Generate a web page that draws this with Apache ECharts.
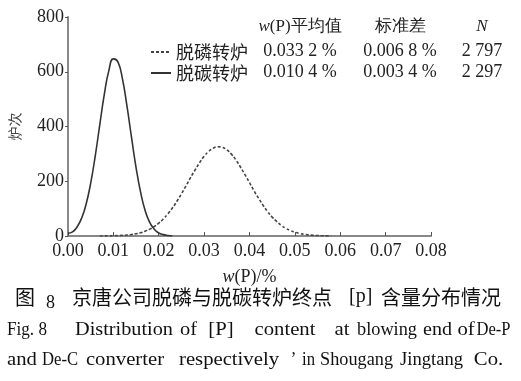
<!DOCTYPE html>
<html>
<head>
<meta charset="utf-8">
<script src="https://cdn.jsdelivr.net/npm/echarts@6/dist/echarts.min.js"></script>
<style>html,body{margin:0;padding:0;background:#fff}#c{width:521px;height:381px}</style>
</head>
<body>
<div id="c"></div>
<script>
// De-C converter (solid)
const xDeC = [0.000,0.001,0.002,0.003,0.004,0.005,0.006,0.007,0.008,0.009,0.010,0.011,0.012,0.013,0.014,0.015,0.016,0.017,0.018,0.019,0.020,0.021,0.022,0.023];
const yDeC = [10,15,33,65,117,193,292,406,517,604,647,636,574,474,360,250,160,93,50,25,11,5,2,0];
// De-P converter (dashed)
const xDeP = [0.007,0.008,0.009,0.010,0.011,0.012,0.013,0.014,0.015,0.016,0.017,0.018,0.019,0.020,0.021,0.022,0.023,0.024,0.025,0.026,0.027,0.028,0.029,0.030,0.031,0.032,0.033,0.034,0.035,0.036,0.037,0.038,0.039,0.040,0.041,0.042,0.043,0.044,0.045,0.046,0.047,0.048,0.049,0.050,0.051,0.052,0.053,0.054,0.055,0.056,0.057,0.058];
const yDeP = [0,0.3,0.5,0.8,1.3,2.2,3.5,5.4,8.2,12,17.5,25,34,47,62,81,102,127,154,183,213,241,268,291,309,321,326,324,315,299,278,252,224,195,165,138,112,89,69,53,39,28,20,14,9.6,6.4,4.1,2.6,1.6,1.0,0.6,0.3];
const seriesNames = ['脱磷转炉','脱碳转炉'];
const xTicks = ['0.00','0.01','0.02','0.03','0.04','0.05','0.06','0.07','0.08'];
const yTicks = [0,200,400,600,800];
const statHeader = ['{i|w}(P)平均值','标准差','{i|N}'];
const statDeP = ['0.033 2 %','0.006 8 %','2 797'];
const statDeC = ['0.010 4 %','0.003 4 %','2 297'];
const captionEn1 = ['Fig. 8','Distribution','of','[P]','content','at','blowing','end','of','De-P'];
const captionEn2 = ['and','De-C','converter','respectively','\u2019','in','Shougang','Jingtang','Co.'];

const serif = '"Liberation Serif","Times New Roman",serif';
const cjk = '"Noto Sans CJK SC",sans-serif';
const dark = '#222';

// word boxes (layout) for the English caption
const box1 = [[7,47],[75,173],[180,197],[207,235],[243,327],[332,352],[357,417],[423,452],[457,475],[480,507]];
const box2 = [[7,37],[42,78],[85,165],[170,288],[291,296],[302,315],[320,393],[400,463],[470,507]];

const mctx = document.createElement('canvas').getContext('2d');
function measure(t, font){ mctx.font = font; return mctx.measureText(t).width; }

const chart = echarts.init(document.getElementById('c'));
const colX = [300, 400, 482];
const rowY = [27, 51, 72];
const g = [];
[statHeader, statDeP, statDeC].forEach((row, r) => {
  row.forEach((t, c) => {
    const fs = r === 0 ? 17 : 18;
    g.push({type:'text', x:colX[c], y:rowY[r], style:{text:t, align:'center', verticalAlign:'middle',
      fill:dark, font:fs + 'px ' + serif, rich:{i:{fontStyle:'italic', fontSize:fs, fontFamily:serif, fill:dark}}}});
  });
});
// Chinese caption
g.push({type:'text', x:15, y:297, style:{text:'图', verticalAlign:'middle', fill:'#111', font:'20px ' + cjk}});
g.push({type:'text', x:46, y:303, style:{text:'8', verticalAlign:'middle', fill:'#111', font:'18px ' + serif}});
g.push({type:'text', x:72, y:297, style:{text:'京唐公司脱磷与脱碳转炉终点', verticalAlign:'middle', fill:'#111', font:'20px ' + cjk}});
g.push({type:'text', x:349, y:297, style:{text:'[p]', verticalAlign:'middle', fill:'#111', font:'20px ' + serif}});
g.push({type:'text', x:381, y:297, style:{text:'含量分布情况', verticalAlign:'middle', fill:'#111', font:'20px ' + cjk}});
// English caption, word by word, centred in each word box
function addWords(words, boxes, y){
  const font = '18px ' + serif;
  words.forEach((w, i) => {
    const [x0, x1] = boxes[i];
    const mw = measure(w, font);
    const sx = Math.max(0.92, Math.min(1.15, (x1 - x0) / mw));
    const cx = (x0 + x1) / 2;
    g.push({type:'text', x:cx, y:y, scaleX:sx, originX:0, originY:0,
      style:{text:w, align:'center', verticalAlign:'middle', fill:'#111', font:font}});
  });
}
addWords(captionEn1, box1, 330);
addWords(captionEn2, box2, 360);

chart.setOption({
  animation:false,
  backgroundColor:'#fff',
  grid:{left:66, right:90, top:17, bottom:145},
  legend:{
    orient:'vertical', left:145, top:38, itemWidth:20, itemHeight:12, itemGap:3,
    itemStyle:{opacity:0},
    textStyle:{fontFamily:cjk, fontSize:18, color:dark},
    data:seriesNames
  },
  xAxis:{
    type:'value', min:0, max:0.08, interval:0.01,
    name:'{i|w}(P)/%', nameLocation:'middle', nameGap:32,
    nameTextStyle:{fontFamily:serif, fontSize:18, color:dark, rich:{i:{fontStyle:'italic', fontFamily:serif, fontSize:18, color:dark}}},
    axisLine:{lineStyle:{color:'#888', width:2}},
    axisTick:{inside:true, length:4, lineStyle:{color:'#555', width:1}},
    axisLabel:{formatter:(v)=>xTicks[Math.round(v*100)], fontFamily:serif, fontSize:18, color:dark, margin:6},
    splitLine:{show:false}
  },
  yAxis:{
    type:'value', min:0, max:800, interval:200,
    name:'炉次', nameLocation:'middle', nameGap:46, nameRotate:90,
    nameTextStyle:{fontFamily:cjk, fontSize:14, color:'#444'},
    axisLine:{show:true, lineStyle:{color:'#888', width:2}},
    axisTick:{show:true, length:3, lineStyle:{color:'#555', width:1}},
    axisLabel:{formatter:(v)=>String(yTicks[Math.round(v/200)]), fontFamily:serif, fontSize:18, color:dark, margin:4},
    splitLine:{show:false}
  },
  series:[
    {name:seriesNames[0], type:'line', smooth:true, symbol:'none', color:'#444',
      lineStyle:{color:'#444', width:1.6, type:[3,2]},
      data:xDeP.map((x,i)=>[x,yDeP[i]])},
    {name:seriesNames[1], type:'line', smooth:true, symbol:'none', color:'#333',
      lineStyle:{color:'#333', width:1.6},
      data:xDeC.map((x,i)=>[x,yDeC[i]])}
  ],
  graphic:g
});
</script>
</body>
</html>
